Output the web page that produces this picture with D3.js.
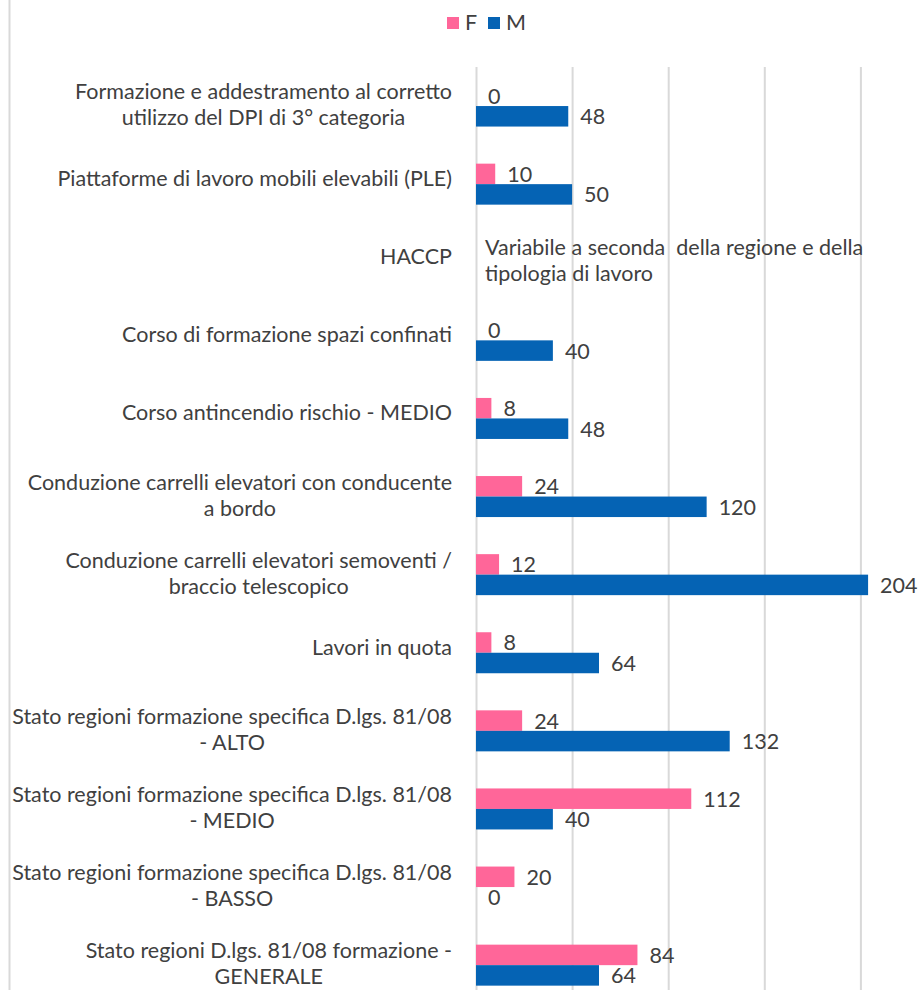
<!DOCTYPE html>
<html>
<head>
<meta charset="utf-8">
<script src="https://cdn.jsdelivr.net/npm/d3@7"></script>
<style>
    body { margin: 0; background: #fff; }
    svg { display: block; font-family: Lato, sans-serif; }
</style>
</head>
<body>
<svg></svg>
<script>
const categories = [
    'Formazione e addestramento al corretto|utilizzo del DPI di 3° categoria',
    'Piattaforme di lavoro mobili elevabili (PLE)',
    'HACCP',
    'Corso di formazione spazi confinati',
    'Corso antincendio rischio - MEDIO',
    'Conduzione carrelli elevatori con conducente|a bordo',
    'Conduzione carrelli elevatori semoventi /|braccio telescopico',
    'Lavori in quota',
    'Stato regioni formazione specifica D.lgs. 81/08|- ALTO',
    'Stato regioni formazione specifica D.lgs. 81/08|- MEDIO',
    'Stato regioni formazione specifica D.lgs. 81/08|- BASSO',
    'Stato regioni D.lgs. 81/08 formazione -|GENERALE'
];
const valuesF = [0, 10, null, 0, 8, 24, 12, 8, 24, 112, 20, 84];
const valuesM = [48, 50, null, 40, 48, 120, 204, 64, 132, 40, 0, 64];
const series = ['F', 'M'];
const colors = ['#FF6699', '#0563B4'];
const xTicks = [0, 50, 100, 150, 200, 250];
const noteCategory = 'HACCP';
const noteLines = ['Variabile a seconda  della regione e della', 'tipologia di lavoro'];

const width = 921;
const height = 990;
const axisX = 476;
const labelRight = 452;
const textColor = '#404040';
const fontSize = '21.5px';

let svg = d3.select('svg')
    .attr('width', width)
    .attr('height', height);

//Chart frame (left edge only visible)
svg.append('line')
    .attr('x1', 9.5).attr('x2', 9.5)
    .attr('y1', 0).attr('y2', height)
    .attr('stroke', '#d9d9d9')
    .attr('stroke-width', 2);

//Scales
let xScale = d3.scaleLinear()
    .domain([0, 250])
    .range([axisX, axisX + 250 * 1.922]);

let yScale = d3.scaleBand()
    .domain(categories)
    .range([67, 67 + categories.length * 78.1]);

let subScale = d3.scaleBand()
    .domain(series)
    .range([yScale.bandwidth() / 2 - 20.5, yScale.bandwidth() / 2 + 20.5]);

//Gridlines
let xAxis = d3.axisBottom(xScale)
    .tickValues(xTicks)
    .tickSize(height - 67 + 20)
    .tickFormat('');

svg.append('g')
    .attr('transform', 'translate(0, 67)')
    .call(xAxis)
    .call(g => g.select('.domain').remove())
    .call(g => g.selectAll('.tick line')
        .attr('stroke', '#d9d9d9')
        .attr('stroke-width', 2));

//Bars
let rows = categories.map((c, i) => ({ category: c, F: valuesF[i], M: valuesM[i] }));

let groups = svg.append('g')
    .selectAll('g')
    .data(rows)
    .enter()
        .append('g')
        .attr('transform', d => `translate(0, ${yScale(d.category)})`);

groups.selectAll('rect')
    .data(d => series.filter(s => d[s] !== null).map(s => ({ key: s, value: d[s] })))
    .enter()
        .append('rect')
        .attr('x', xScale(0))
        .attr('y', d => subScale(d.key))
        .attr('width', d => xScale(d.value) - xScale(0))
        .attr('height', subScale.bandwidth())
        .attr('fill', d => colors[series.indexOf(d.key)]);

groups.selectAll('text.value')
    .data(d => series.filter(s => d[s] !== null).map(s => ({ key: s, value: d[s] })))
    .enter()
        .append('text')
        .classed('value', true)
        .attr('x', d => xScale(d.value) + 12)
        .attr('y', d => subScale(d.key) + subScale.bandwidth() / 2 + 8)
        .attr('fill', textColor)
        .style('font-size', fontSize)
        .text(d => d.value);

//Category labels, each wrapped block centered and right aligned
let labels = svg.append('g')
    .selectAll('text')
    .data(categories)
    .enter()
        .append('text')
        .attr('fill', textColor)
        .attr('text-anchor', 'middle')
        .style('font-size', fontSize);

labels.each(function(d) {
    let lines = d.split('|');
    let yMid = yScale(d) + yScale.bandwidth() / 2;
    let shift = lines.length === 1 ? 2 : 6;
    let text = d3.select(this);
    lines.forEach((line, i) => {
        text.append('tspan')
            .attr('x', 0)
            .attr('y', yMid + shift + (i - (lines.length - 1) / 2) * 26)
            .text(line);
    });
    let w = this.getBBox().width;
    text.selectAll('tspan').attr('x', labelRight - w / 2);
});

//Note in the HACCP row
svg.append('text')
    .attr('fill', textColor)
    .style('font-size', fontSize)
    .style('white-space', 'pre')
    .selectAll('tspan')
    .data(noteLines)
    .enter()
        .append('tspan')
        .attr('x', 485)
        .attr('y', (d, i) => yScale(noteCategory) + yScale.bandwidth() / 2 + 5.5 + (i - 0.5) * 26)
        .text(d => d);

//Legend
let legend = svg.append('g')
    .selectAll('g')
    .data(series)
    .enter()
        .append('g')
        .attr('transform', (d, i) => `translate(${[447, 488][i]}, 17)`);

legend.append('rect')
    .attr('width', 12)
    .attr('height', 12)
    .attr('fill', (d, i) => colors[i]);

legend.append('text')
    .attr('x', 18)
    .attr('y', 13)
    .attr('fill', textColor)
    .style('font-size', fontSize)
    .text(d => d);
</script>
</body>
</html>
